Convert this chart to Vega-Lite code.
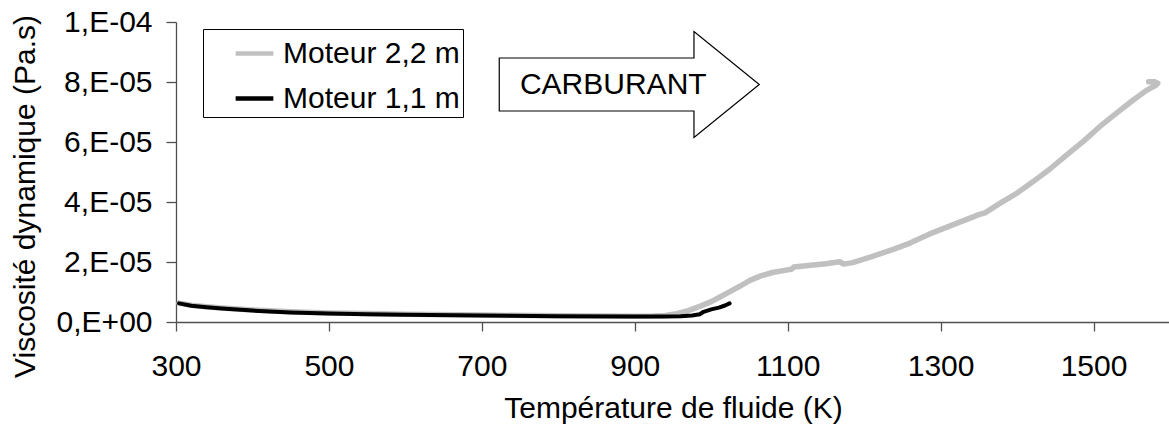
{
  "$schema": "https://vega.github.io/schema/vega-lite/v6.json",
  "width": 994,
  "height": 300,
  "autosize": {"type": "none"},
  "padding": {"left": 176, "top": 22, "right": 0, "bottom": 114},
  "background": "white",
  "config": {
    "font": "Liberation Sans",
    "view": {"stroke": null},
    "axis": {"grid": false, "labelFont": "Liberation Sans", "titleFont": "Liberation Sans", "labelFontSize": 30, "titleFontSize": 30, "titleFontWeight": "normal", "labelColor": "#000", "titleColor": "#000", "domainColor": "#505050", "tickColor": "#505050", "domainWidth": 1.3, "tickWidth": 1.3}
  },
  "datasets": {
    "viscosite": [
      {"serie": "Moteur 2,2 m", "n": 1, "T": 304, "mu": 6.3e-6},
      {"serie": "Moteur 2,2 m", "n": 2, "T": 320, "mu": 5.6e-6},
      {"serie": "Moteur 2,2 m", "n": 3, "T": 340, "mu": 5.1e-6},
      {"serie": "Moteur 2,2 m", "n": 4, "T": 360, "mu": 4.7e-6},
      {"serie": "Moteur 2,2 m", "n": 5, "T": 400, "mu": 4.0e-6},
      {"serie": "Moteur 2,2 m", "n": 6, "T": 450, "mu": 3.4e-6},
      {"serie": "Moteur 2,2 m", "n": 7, "T": 500, "mu": 3.0e-6},
      {"serie": "Moteur 2,2 m", "n": 8, "T": 550, "mu": 2.8e-6},
      {"serie": "Moteur 2,2 m", "n": 9, "T": 600, "mu": 2.6e-6},
      {"serie": "Moteur 2,2 m", "n": 10, "T": 700, "mu": 2.3e-6},
      {"serie": "Moteur 2,2 m", "n": 11, "T": 800, "mu": 2.05e-6},
      {"serie": "Moteur 2,2 m", "n": 12, "T": 900, "mu": 1.95e-6},
      {"serie": "Moteur 2,2 m", "n": 13, "T": 925, "mu": 2.0e-6},
      {"serie": "Moteur 2,2 m", "n": 14, "T": 940, "mu": 2.2e-6},
      {"serie": "Moteur 2,2 m", "n": 15, "T": 955, "mu": 2.8e-6},
      {"serie": "Moteur 2,2 m", "n": 16, "T": 970, "mu": 3.8e-6},
      {"serie": "Moteur 2,2 m", "n": 17, "T": 985, "mu": 5.2e-6},
      {"serie": "Moteur 2,2 m", "n": 18, "T": 1000, "mu": 6.8e-6},
      {"serie": "Moteur 2,2 m", "n": 19, "T": 1012, "mu": 8.4e-6},
      {"serie": "Moteur 2,2 m", "n": 20, "T": 1025, "mu": 10.2e-6},
      {"serie": "Moteur 2,2 m", "n": 21, "T": 1038, "mu": 12.0e-6},
      {"serie": "Moteur 2,2 m", "n": 22, "T": 1050, "mu": 13.8e-6},
      {"serie": "Moteur 2,2 m", "n": 23, "T": 1064, "mu": 15.3e-6},
      {"serie": "Moteur 2,2 m", "n": 24, "T": 1080, "mu": 16.5e-6},
      {"serie": "Moteur 2,2 m", "n": 25, "T": 1098, "mu": 17.3e-6},
      {"serie": "Moteur 2,2 m", "n": 26, "T": 1105, "mu": 17.6e-6},
      {"serie": "Moteur 2,2 m", "n": 27, "T": 1108, "mu": 18.3e-6},
      {"serie": "Moteur 2,2 m", "n": 28, "T": 1130, "mu": 18.9e-6},
      {"serie": "Moteur 2,2 m", "n": 29, "T": 1150, "mu": 19.4e-6},
      {"serie": "Moteur 2,2 m", "n": 30, "T": 1168, "mu": 20.1e-6},
      {"serie": "Moteur 2,2 m", "n": 31, "T": 1173, "mu": 19.3e-6},
      {"serie": "Moteur 2,2 m", "n": 32, "T": 1185, "mu": 19.8e-6},
      {"serie": "Moteur 2,2 m", "n": 33, "T": 1210, "mu": 21.8e-6},
      {"serie": "Moteur 2,2 m", "n": 34, "T": 1238, "mu": 24.2e-6},
      {"serie": "Moteur 2,2 m", "n": 35, "T": 1260, "mu": 26.3e-6},
      {"serie": "Moteur 2,2 m", "n": 36, "T": 1290, "mu": 29.8e-6},
      {"serie": "Moteur 2,2 m", "n": 37, "T": 1320, "mu": 32.8e-6},
      {"serie": "Moteur 2,2 m", "n": 38, "T": 1350, "mu": 35.8e-6},
      {"serie": "Moteur 2,2 m", "n": 39, "T": 1358, "mu": 36.4e-6},
      {"serie": "Moteur 2,2 m", "n": 40, "T": 1378, "mu": 39.6e-6},
      {"serie": "Moteur 2,2 m", "n": 41, "T": 1400, "mu": 43.0e-6},
      {"serie": "Moteur 2,2 m", "n": 42, "T": 1421, "mu": 46.8e-6},
      {"serie": "Moteur 2,2 m", "n": 43, "T": 1443, "mu": 51.0e-6},
      {"serie": "Moteur 2,2 m", "n": 44, "T": 1465, "mu": 55.7e-6},
      {"serie": "Moteur 2,2 m", "n": 45, "T": 1487, "mu": 60.3e-6},
      {"serie": "Moteur 2,2 m", "n": 46, "T": 1508, "mu": 65.1e-6},
      {"serie": "Moteur 2,2 m", "n": 47, "T": 1530, "mu": 69.6e-6},
      {"serie": "Moteur 2,2 m", "n": 48, "T": 1552, "mu": 74.0e-6},
      {"serie": "Moteur 2,2 m", "n": 49, "T": 1570, "mu": 77.3e-6},
      {"serie": "Moteur 2,2 m", "n": 50, "T": 1582, "mu": 79.0e-6},
      {"serie": "Moteur 2,2 m", "n": 51, "T": 1584, "mu": 79.6e-6},
      {"serie": "Moteur 2,2 m", "n": 52, "T": 1580, "mu": 80.1e-6},
      {"serie": "Moteur 2,2 m", "n": 53, "T": 1572, "mu": 80.1e-6},
      {"serie": "Moteur 1,1 m", "n": 1, "T": 304, "mu": 6.2e-6},
      {"serie": "Moteur 1,1 m", "n": 2, "T": 320, "mu": 5.4e-6},
      {"serie": "Moteur 1,1 m", "n": 3, "T": 340, "mu": 4.9e-6},
      {"serie": "Moteur 1,1 m", "n": 4, "T": 360, "mu": 4.5e-6},
      {"serie": "Moteur 1,1 m", "n": 5, "T": 400, "mu": 3.8e-6},
      {"serie": "Moteur 1,1 m", "n": 6, "T": 450, "mu": 3.2e-6},
      {"serie": "Moteur 1,1 m", "n": 7, "T": 500, "mu": 2.8e-6},
      {"serie": "Moteur 1,1 m", "n": 8, "T": 550, "mu": 2.6e-6},
      {"serie": "Moteur 1,1 m", "n": 9, "T": 600, "mu": 2.45e-6},
      {"serie": "Moteur 1,1 m", "n": 10, "T": 700, "mu": 2.15e-6},
      {"serie": "Moteur 1,1 m", "n": 11, "T": 800, "mu": 1.9e-6},
      {"serie": "Moteur 1,1 m", "n": 12, "T": 900, "mu": 1.8e-6},
      {"serie": "Moteur 1,1 m", "n": 13, "T": 940, "mu": 1.8e-6},
      {"serie": "Moteur 1,1 m", "n": 14, "T": 960, "mu": 1.95e-6},
      {"serie": "Moteur 1,1 m", "n": 15, "T": 975, "mu": 2.2e-6},
      {"serie": "Moteur 1,1 m", "n": 16, "T": 985, "mu": 2.6e-6},
      {"serie": "Moteur 1,1 m", "n": 17, "T": 990, "mu": 3.4e-6},
      {"serie": "Moteur 1,1 m", "n": 18, "T": 1000, "mu": 4.2e-6},
      {"serie": "Moteur 1,1 m", "n": 19, "T": 1010, "mu": 4.8e-6},
      {"serie": "Moteur 1,1 m", "n": 20, "T": 1018, "mu": 5.5e-6},
      {"serie": "Moteur 1,1 m", "n": 21, "T": 1024, "mu": 6.2e-6}
    ]
  },
  "layer": [
    {
      "data": {"name": "viscosite"},
      "transform": [{"filter": "datum.serie == 'Moteur 2,2 m'"}],
      "mark": {"type": "line", "strokeWidth": 5.5, "strokeCap": "round", "strokeJoin": "round"},
      "encoding": {
        "x": {
          "field": "T", "type": "quantitative",
          "scale": {"domain": [300, 1600], "nice": false, "zero": false},
          "axis": {"title": "Température de fluide (K)", "format": "d", "values": [300, 500, 700, 900, 1100, 1300, 1500], "tickSize": 9, "labelPadding": 20, "labelFlush": false, "labelOverlap": false, "titleY": 95, "titleBaseline": "alphabetic"}
        },
        "y": {
          "field": "mu", "type": "quantitative",
          "scale": {"domain": [0, 0.0001], "nice": false},
          "axis": {"title": "Viscosité dynamique (Pa.s)", "values": [0, 0.00002, 0.00004, 0.00006, 0.00008, 0.0001], "labelExpr": "datum.value == 0 ? '0,E+00' : replace(format(datum.value, '.0e'), 'e-', ',E-0')", "tickSize": 10, "labelPadding": 14, "titleX": -142, "titleY": 174, "titleBaseline": "alphabetic", "titleAlign": "center", "titleAngle": -90}
        },
        "color": {
          "field": "serie", "type": "nominal",
          "scale": {"domain": ["Moteur 2,2 m", "Moteur 1,1 m"], "range": ["#c0c0c0", "#000000"]},
          "legend": {"title": null, "orient": "none", "legendX": 27, "legendY": 7, "strokeColor": "#000", "fillColor": "#fff", "padding": 3, "rowPadding": 8, "symbolType": "stroke", "symbolSize": 1421, "symbolStrokeWidth": 4.5, "symbolOffset": 27, "labelFontSize": 30, "labelOffset": 7, "labelColor": "#000", "labelFont": "Liberation Sans", "labelLimit": 400}
        },
        "order": {"field": "n", "type": "quantitative"}
      }
    },
    {
      "data": {"name": "viscosite"},
      "transform": [{"filter": "datum.serie == 'Moteur 1,1 m'"}],
      "mark": {"type": "line", "strokeWidth": 4, "strokeCap": "round", "strokeJoin": "round"},
      "encoding": {
        "x": {"field": "T", "type": "quantitative"},
        "y": {"field": "mu", "type": "quantitative"},
        "color": {"field": "serie", "type": "nominal"},
        "order": {"field": "n", "type": "quantitative"}
      }
    },
    {
      "data": {"values": [{}]},
      "mark": {"type": "point", "shape": "M-1.3,-0.265L0.647,-0.265L0.647,-0.53L1.3,0L0.647,0.53L0.647,0.265L-1.3,0.265Z", "size": 40000, "filled": true, "fill": "#ffffff", "stroke": "#000000", "strokeWidth": 1.2, "opacity": 1},
      "encoding": {
        "x": {"datum": 892.8, "type": "quantitative"},
        "y": {"datum": 0.00007917, "type": "quantitative"}
      }
    },
    {
      "data": {"values": [{}]},
      "mark": {"type": "text", "text": "CARBURANT", "fontSize": 30, "font": "Liberation Sans", "baseline": "alphabetic", "align": "center", "color": "#000"},
      "encoding": {
        "x": {"datum": 871.9, "type": "quantitative"},
        "y": {"datum": 0.000076, "type": "quantitative"}
      }
    }
  ]
}
